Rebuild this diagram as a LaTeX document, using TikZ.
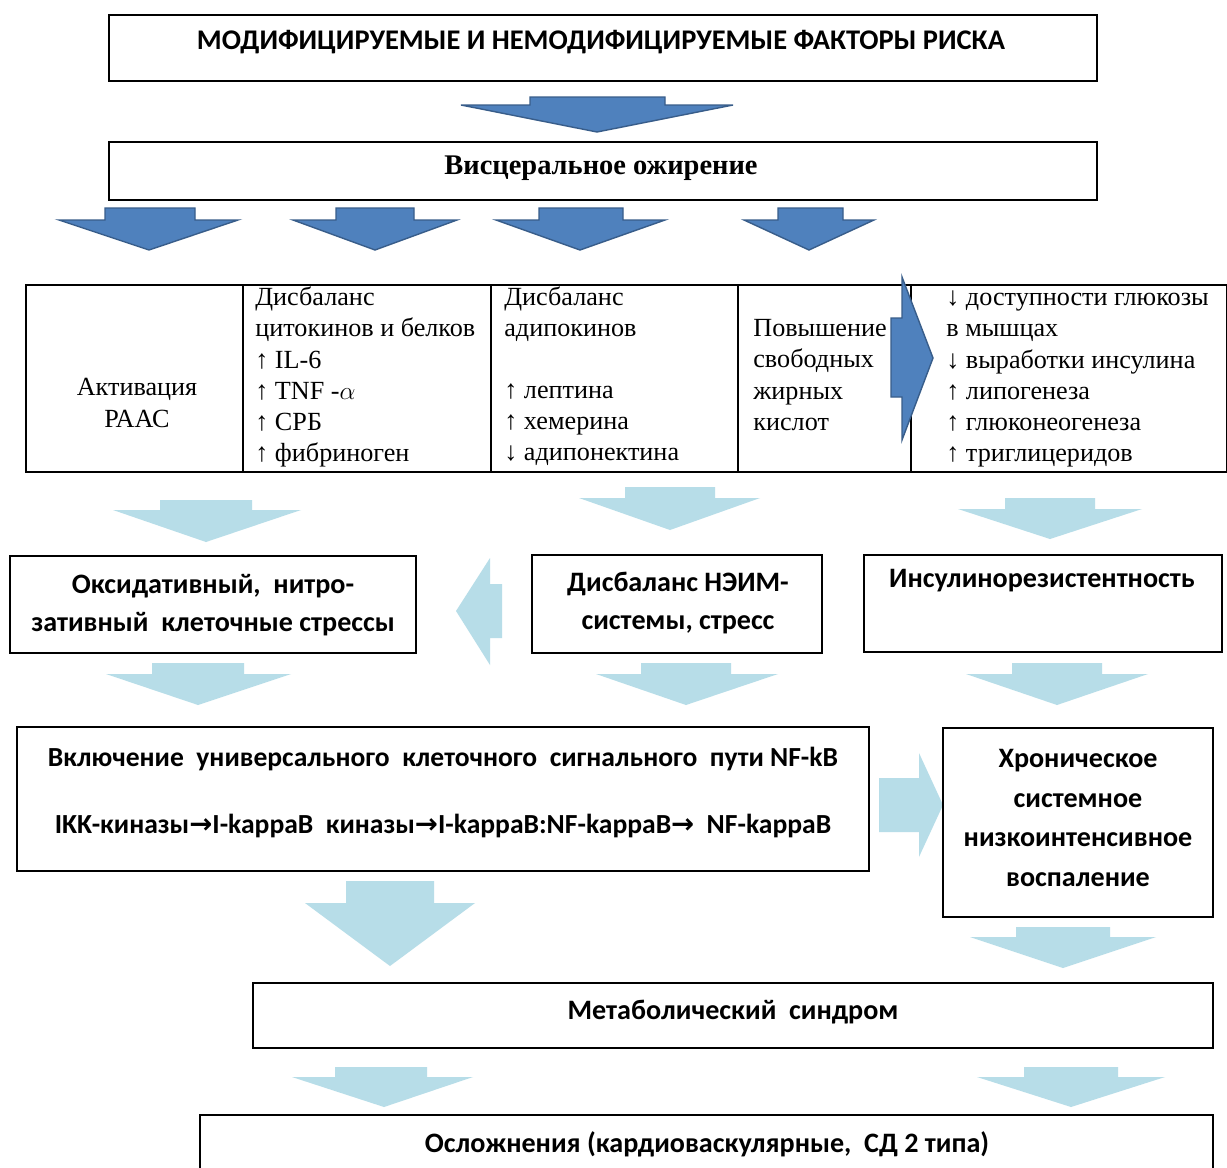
\documentclass[tikz,border=0pt]{standalone}
\usepackage{fontspec}
\usepackage{tikz}
\usepackage{xcolor}
\setmainfont{Liberation Serif}
\setsansfont{Carlito}
\newfontfamily\arrowfont{DejaVu Sans}
\definecolor{darkfill}{RGB}{79,129,189}
\definecolor{darkedge}{RGB}{56,93,138}
\definecolor{lightfill}{RGB}{183,221,232}

\begin{document}
\begin{tikzpicture}[x=0.02cm,y=-0.02cm,
  boxline/.style={draw=black,line width=1.1pt},
  darkarrow/.style={fill=darkfill,draw=darkedge,line width=0.8pt,line join=miter},
  lightarrow/.style={fill=lightfill},
  titletext/.style={font=\sffamily\bfseries\fontsize{16.2}{19}\selectfont,inner sep=0pt},
  serifbold/.style={font=\bfseries\fontsize{16.2}{19}\selectfont,inner sep=0pt},
  celltext/.style={font=\fontsize{14.9}{17.7}\selectfont,align=left,anchor=west,inner sep=0pt},
  sanstext/.style={font=\sffamily\bfseries\fontsize{16}{22}\selectfont,align=center,inner sep=0pt}]
\useasboundingbox (0,0) rectangle (1227,1167);
\fill[white] (0,0) rectangle (1227,1167);

\draw[boxline] (109,15) rectangle (1097,81);
\node[titletext] (risk) at (601,42) {МОДИФИЦИРУЕМЫЕ И НЕМОДИФИЦИРУЕМЫЕ ФАКТОРЫ РИСКА};
\filldraw[darkarrow] (530,97) -- (665,97) -- (665,105) -- (733,105) -- (597,132) -- (461,105) -- (530,105) -- cycle;

\draw[boxline] (109,142) rectangle (1097,200);
\node[serifbold] (visc) at (601,168) {Висцеральное ожирение};
\filldraw[darkarrow] (105,208) -- (195,208) -- (195,220) -- (238,220) -- (149,250) -- (59,220) -- (105,220) -- cycle;
\filldraw[darkarrow] (336,208) -- (414,208) -- (414,220) -- (457,220) -- (375,250) -- (293,220) -- (336,220) -- cycle;
\filldraw[darkarrow] (539,208) -- (623,208) -- (623,220) -- (665,220) -- (580,250) -- (496,220) -- (539,220) -- cycle;
\filldraw[darkarrow] (778,208) -- (843,208) -- (843,220) -- (874,220) -- (809,250) -- (744,220) -- (778,220) -- cycle;

\draw[boxline] (26,285) rectangle (1227,472);
\draw[boxline] (243,285) -- (243,472);
\draw[boxline] (491,285) -- (491,472);
\draw[boxline] (738,285) -- (738,472);
\draw[boxline] (911,285) -- (911,472);
\node[celltext,anchor=center,align=center] (raas) at (137,403) {Активация\\РААС};
\node[celltext] (cyto) at (255,377) {Дисбаланс\\цитокинов и белков\\↑ IL-6\\↑ TNF -$\alpha$\\↑ СРБ\\↑ фибриноген};
\node[celltext] (adipo) at (504,376) {Дисбаланс\\адипокинов\\[17.7pt]↑ лептина\\↑ хемерина\\↓ адипонектина};
\node[celltext] (ffa) at (753,375) {Повышение\\свободных\\жирных\\кислот};
\node[celltext] (gluc) at (946,379) {↓ доступности глюкозы\\в мышцах\\↓ выработки инсулина\\↑ липогенеза\\↑ глюконеогенеза\\↑ триглицеридов};
\filldraw[darkarrow] (891,318) -- (902,318) -- (902,277) -- (933,358) -- (902,440) -- (902,397) -- (891,397) -- cycle;

\fill[lightarrow] (160,500) -- (252,500) -- (252,510) -- (301,510) -- (206,542) -- (113,510) -- (160,510) -- cycle;
\fill[lightarrow] (625,487) -- (715,487) -- (715,498) -- (760,498) -- (670,530) -- (579,498) -- (625,498) -- cycle;
\fill[lightarrow] (1005,498) -- (1095,498) -- (1095,509) -- (1142,509) -- (1050,539) -- (958,509) -- (1005,509) -- cycle;

\draw[boxline] (10,556) rectangle (416,653);
\node[sanstext] (oxid) at (213,605) {Оксидативный,~ нитро-\\зативный~ клеточные стрессы};
\draw[boxline] (532,555) rectangle (822,653);
\node[sanstext] (neim) at (678,603) {Дисбаланс НЭИМ-\\системы, стресс};
\draw[boxline] (864,555) rectangle (1222,652);
\node[sanstext] (insres) at (1042,581) {Инсулинорезистентность};
\fill[lightarrow] (502,584) -- (490,584) -- (490,558) -- (456,611) -- (490,665) -- (490,638) -- (502,638) -- cycle;

\fill[lightarrow] (152,663) -- (244,663) -- (244,674) -- (291,674) -- (198,705) -- (106,674) -- (152,674) -- cycle;
\fill[lightarrow] (641,663) -- (731,663) -- (731,674) -- (778,674) -- (686,705) -- (596,674) -- (641,674) -- cycle;
\fill[lightarrow] (1012,663) -- (1102,663) -- (1102,674) -- (1148,674) -- (1057,705) -- (966,674) -- (1012,674) -- cycle;

\draw[boxline] (17,727) rectangle (869,871);
\node[sanstext,font=\sffamily\bfseries\fontsize{15.7}{22}\selectfont] (nfkb) at (443,759) {Включение~ универсального~ клеточного~ сигнального~ пути NF-kB};
\node[sanstext,font=\sffamily\bfseries\fontsize{15.7}{22}\selectfont] (kappa) at (443,826) {IKK-киназы{\arrowfont →}I-kappaB~ киназы{\arrowfont →}I-kappaB:NF-kappaB{\arrowfont →}~ NF-kappaB};
\fill[lightarrow] (879,778) -- (919,778) -- (919,753) -- (943,805) -- (919,857) -- (919,832) -- (879,832) -- cycle;
\draw[boxline] (943,728) rectangle (1213,917);
\node[sanstext,font=\sffamily\bfseries\fontsize{16}{22.7}\selectfont] (chron) at (1078,818) {Хроническое\\системное\\низкоинтенсивное\\воспаление};

\fill[lightarrow] (346,881) -- (434,881) -- (434,903) -- (475,903) -- (390,966) -- (305,903) -- (346,903) -- cycle;
\fill[lightarrow] (1016,927) -- (1110,927) -- (1110,937) -- (1156,937) -- (1063,968) -- (970,937) -- (1016,937) -- cycle;

\draw[boxline] (253,983) rectangle (1213,1048);
\node[sanstext] (metab) at (733,1012) {Метаболический~ синдром};
\fill[lightarrow] (335,1067) -- (427,1067) -- (427,1077) -- (473,1077) -- (384,1107) -- (292,1077) -- (335,1077) -- cycle;
\fill[lightarrow] (1024,1067) -- (1118,1067) -- (1118,1077) -- (1165,1077) -- (1071,1107) -- (977,1077) -- (1024,1077) -- cycle;

\draw[boxline] (200,1115) rectangle (1213,1185);
\node[sanstext] (compl) at (707,1144) {Осложнения (кардиоваскулярные,~ СД 2 типа)};
\end{tikzpicture}
\end{document}
